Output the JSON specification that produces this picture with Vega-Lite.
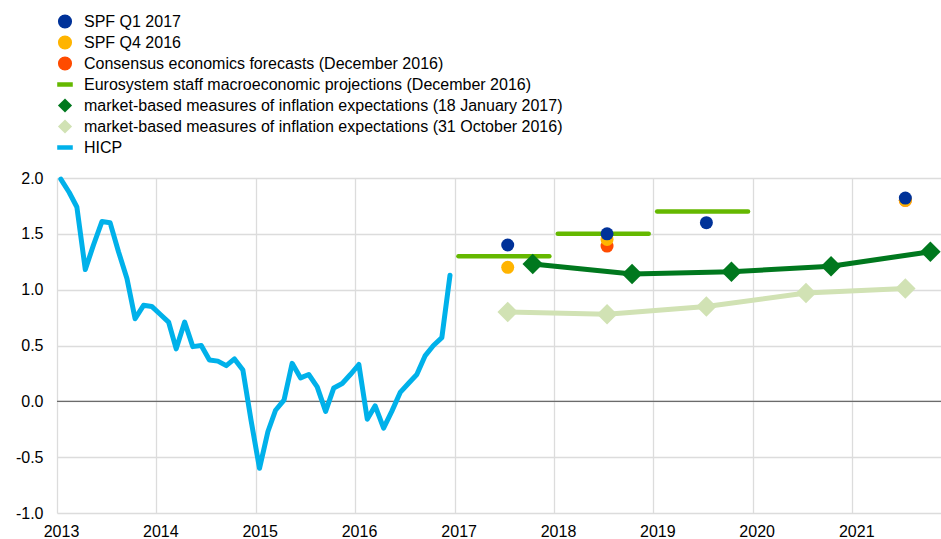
{
  "$schema": "https://vega.github.io/schema/vega-lite/v6.json",
  "autosize": {"type": "none"},
  "padding": {"left": 57, "top": 178, "right": 0, "bottom": 26},
  "width": 884,
  "height": 335,
  "background": "white",
  "config": {
    "view": {"stroke": null},
    "font": "Liberation Sans",
    "axis": {"labelFont": "Liberation Sans", "labelFontSize": 16, "labelColor": "#000000", "title": null, "domain": false, "ticks": false, "gridColor": "#dcdcdc", "gridWidth": 1.3},
    "legend": {
      "labelFont": "Liberation Sans", "labelFontSize": 16, "labelColor": "#000000", "labelLimit": 1000, "padding": 0,
      "orient": "none", "legendX": 0, "legendY": -167, "symbolSize": 200, "clipHeight": 21, "rowPadding": 0, "labelOffset": 11,
      "symbolStrokeWidth": 0, "symbolOpacity": 1
    }
  },
  "datasets": {
    "zero": [{"value": 0}],
    "hicp": [
      {"date": "2013-01-15", "value": 1.99, "series": "HICP"},
      {"date": "2013-02-15", "value": 1.87, "series": "HICP"},
      {"date": "2013-03-15", "value": 1.74, "series": "HICP"},
      {"date": "2013-04-15", "value": 1.18, "series": "HICP"},
      {"date": "2013-05-15", "value": 1.40, "series": "HICP"},
      {"date": "2013-06-15", "value": 1.61, "series": "HICP"},
      {"date": "2013-07-15", "value": 1.60, "series": "HICP"},
      {"date": "2013-08-15", "value": 1.34, "series": "HICP"},
      {"date": "2013-09-15", "value": 1.10, "series": "HICP"},
      {"date": "2013-10-15", "value": 0.74, "series": "HICP"},
      {"date": "2013-11-15", "value": 0.86, "series": "HICP"},
      {"date": "2013-12-15", "value": 0.85, "series": "HICP"},
      {"date": "2014-01-15", "value": 0.78, "series": "HICP"},
      {"date": "2014-02-15", "value": 0.71, "series": "HICP"},
      {"date": "2014-03-15", "value": 0.47, "series": "HICP"},
      {"date": "2014-04-15", "value": 0.71, "series": "HICP"},
      {"date": "2014-05-15", "value": 0.49, "series": "HICP"},
      {"date": "2014-06-15", "value": 0.50, "series": "HICP"},
      {"date": "2014-07-15", "value": 0.37, "series": "HICP"},
      {"date": "2014-08-15", "value": 0.36, "series": "HICP"},
      {"date": "2014-09-15", "value": 0.32, "series": "HICP"},
      {"date": "2014-10-15", "value": 0.38, "series": "HICP"},
      {"date": "2014-11-15", "value": 0.28, "series": "HICP"},
      {"date": "2014-12-15", "value": -0.17, "series": "HICP"},
      {"date": "2015-01-15", "value": -0.60, "series": "HICP"},
      {"date": "2015-02-15", "value": -0.27, "series": "HICP"},
      {"date": "2015-03-15", "value": -0.08, "series": "HICP"},
      {"date": "2015-04-15", "value": 0.01, "series": "HICP"},
      {"date": "2015-05-15", "value": 0.34, "series": "HICP"},
      {"date": "2015-06-15", "value": 0.21, "series": "HICP"},
      {"date": "2015-07-15", "value": 0.24, "series": "HICP"},
      {"date": "2015-08-15", "value": 0.13, "series": "HICP"},
      {"date": "2015-09-15", "value": -0.09, "series": "HICP"},
      {"date": "2015-10-15", "value": 0.12, "series": "HICP"},
      {"date": "2015-11-15", "value": 0.16, "series": "HICP"},
      {"date": "2015-12-15", "value": 0.24, "series": "HICP"},
      {"date": "2016-01-15", "value": 0.33, "series": "HICP"},
      {"date": "2016-02-15", "value": -0.16, "series": "HICP"},
      {"date": "2016-03-15", "value": -0.04, "series": "HICP"},
      {"date": "2016-04-15", "value": -0.24, "series": "HICP"},
      {"date": "2016-05-15", "value": -0.09, "series": "HICP"},
      {"date": "2016-06-15", "value": 0.08, "series": "HICP"},
      {"date": "2016-07-15", "value": 0.16, "series": "HICP"},
      {"date": "2016-08-15", "value": 0.24, "series": "HICP"},
      {"date": "2016-09-15", "value": 0.41, "series": "HICP"},
      {"date": "2016-10-15", "value": 0.50, "series": "HICP"},
      {"date": "2016-11-15", "value": 0.57, "series": "HICP"},
      {"date": "2016-12-15", "value": 1.13, "series": "HICP"}
    ],
    "projections": [
      {"date": "2017-01-15", "end": "2017-12-15", "value": 1.3, "series": "Eurosystem staff macroeconomic projections (December 2016)"},
      {"date": "2018-01-15", "end": "2018-12-15", "value": 1.5, "series": "Eurosystem staff macroeconomic projections (December 2016)"},
      {"date": "2019-01-15", "end": "2019-12-15", "value": 1.7, "series": "Eurosystem staff macroeconomic projections (December 2016)"}
    ],
    "surveys": [
      {"date": "2018-07-15", "value": 1.39, "series": "Consensus economics forecasts (December 2016)"},
      {"date": "2021-07-15", "value": 1.80, "series": "Consensus economics forecasts (December 2016)"},
      {"date": "2017-07-15", "value": 1.20, "series": "SPF Q4 2016"},
      {"date": "2018-07-15", "value": 1.45, "series": "SPF Q4 2016"},
      {"date": "2021-07-15", "value": 1.80, "series": "SPF Q4 2016"},
      {"date": "2017-07-15", "value": 1.40, "series": "SPF Q1 2017"},
      {"date": "2018-07-15", "value": 1.50, "series": "SPF Q1 2017"},
      {"date": "2019-07-15", "value": 1.60, "series": "SPF Q1 2017"},
      {"date": "2021-07-15", "value": 1.82, "series": "SPF Q1 2017"}
    ],
    "market": [
      {"date": "2017-07-15", "value": 0.80, "series": "market-based measures of inflation expectations (31 October 2016)"},
      {"date": "2018-07-15", "value": 0.78, "series": "market-based measures of inflation expectations (31 October 2016)"},
      {"date": "2019-07-15", "value": 0.85, "series": "market-based measures of inflation expectations (31 October 2016)"},
      {"date": "2020-07-15", "value": 0.97, "series": "market-based measures of inflation expectations (31 October 2016)"},
      {"date": "2021-07-15", "value": 1.01, "series": "market-based measures of inflation expectations (31 October 2016)"},
      {"date": "2017-10-15", "value": 1.23, "series": "market-based measures of inflation expectations (18 January 2017)"},
      {"date": "2018-10-15", "value": 1.14, "series": "market-based measures of inflation expectations (18 January 2017)"},
      {"date": "2019-10-15", "value": 1.16, "series": "market-based measures of inflation expectations (18 January 2017)"},
      {"date": "2020-10-15", "value": 1.21, "series": "market-based measures of inflation expectations (18 January 2017)"},
      {"date": "2021-10-15", "value": 1.34, "series": "market-based measures of inflation expectations (18 January 2017)"}
    ]
  },
  "layer": [
    {
      "data": {"name": "zero"},
      "mark": {"type": "rule", "color": "#6b6b6b", "strokeWidth": 1.3},
      "encoding": {
        "y": {
          "field": "value", "type": "quantitative",
          "scale": {"domain": [-1, 2], "nice": false, "zero": false},
          "axis": {
            "values": [-1, -0.5, 0, 0.5, 1, 1.5, 2],
            "labelExpr": "replace(format(datum.value, '.1f'), '\u2212', '-')",
            "labelPadding": 14,
            "grid": true
          }
        }
      }
    },
    {
      "data": {"name": "hicp"},
      "mark": {"type": "line", "strokeWidth": 5, "strokeCap": "round", "strokeJoin": "round"},
      "encoding": {
        "x": {
          "field": "date", "type": "temporal",
          "scale": {"type": "utc", "domain": ["2013-01-01", "2021-11-23"]},
          "axis": {
            "values": ["2013-01-01", "2014-01-01", "2015-01-01", "2016-01-01", "2017-01-01", "2018-01-01", "2019-01-01", "2020-01-01", "2021-01-01"],
            "labelExpr": "utcFormat(datum.value, '%Y')",
            "labelOffset": 4,
            "labelPadding": 10,
            "labelFlush": false,
            "grid": true
          }
        },
        "y": {"field": "value", "type": "quantitative"},
        "color": {
          "field": "series", "type": "nominal", "title": null,
          "scale": {
            "domain": [
              "SPF Q1 2017",
              "SPF Q4 2016",
              "Consensus economics forecasts (December 2016)",
              "Eurosystem staff macroeconomic projections (December 2016)",
              "market-based measures of inflation expectations (18 January 2017)",
              "market-based measures of inflation expectations (31 October 2016)",
              "HICP"
            ],
            "range": ["#003299", "#ffb400", "#ff4b00", "#65b800", "#00781e", "#d1e2b4", "#00b1ea"]
          }
        }
      }
    },
    {
      "data": {"name": "projections"},
      "mark": {"type": "rule", "strokeWidth": 4.5, "strokeCap": "round"},
      "encoding": {
        "x": {"field": "date", "type": "temporal", "scale": {"type": "utc"}},
        "x2": {"field": "end"},
        "y": {"field": "value", "type": "quantitative"},
        "color": {"field": "series", "type": "nominal", "title": null}
      }
    },
    {
      "data": {"name": "surveys"},
      "mark": {"type": "point", "filled": true, "size": 169, "opacity": 1, "strokeWidth": 0},
      "encoding": {
        "x": {"field": "date", "type": "temporal", "scale": {"type": "utc"}},
        "y": {"field": "value", "type": "quantitative"},
        "color": {"field": "series", "type": "nominal", "title": null},
        "shape": {
          "field": "series", "type": "nominal", "title": null,
          "scale": {
            "domain": [
              "SPF Q1 2017",
              "SPF Q4 2016",
              "Consensus economics forecasts (December 2016)",
              "Eurosystem staff macroeconomic projections (December 2016)",
              "market-based measures of inflation expectations (18 January 2017)",
              "market-based measures of inflation expectations (31 October 2016)",
              "HICP"
            ],
            "range": ["circle", "circle", "circle", "M-1.1,-0.33H1.1V0.33H-1.1Z", "diamond", "diamond", "M-1.1,-0.33H1.1V0.33H-1.1Z"]
          }
        }
      }
    },
    {
      "data": {"name": "market"},
      "mark": {"type": "line", "strokeWidth": 5, "strokeJoin": "round"},
      "encoding": {
        "x": {"field": "date", "type": "temporal", "scale": {"type": "utc"}},
        "y": {"field": "value", "type": "quantitative"},
        "color": {"field": "series", "type": "nominal", "title": null}
      }
    },
    {
      "data": {"name": "market"},
      "mark": {"type": "point", "filled": true, "size": 420, "opacity": 1, "strokeWidth": 0},
      "encoding": {
        "x": {"field": "date", "type": "temporal", "scale": {"type": "utc"}},
        "y": {"field": "value", "type": "quantitative"},
        "color": {"field": "series", "type": "nominal", "title": null},
        "shape": {"field": "series", "type": "nominal", "title": null}
      }
    }
  ]
}
